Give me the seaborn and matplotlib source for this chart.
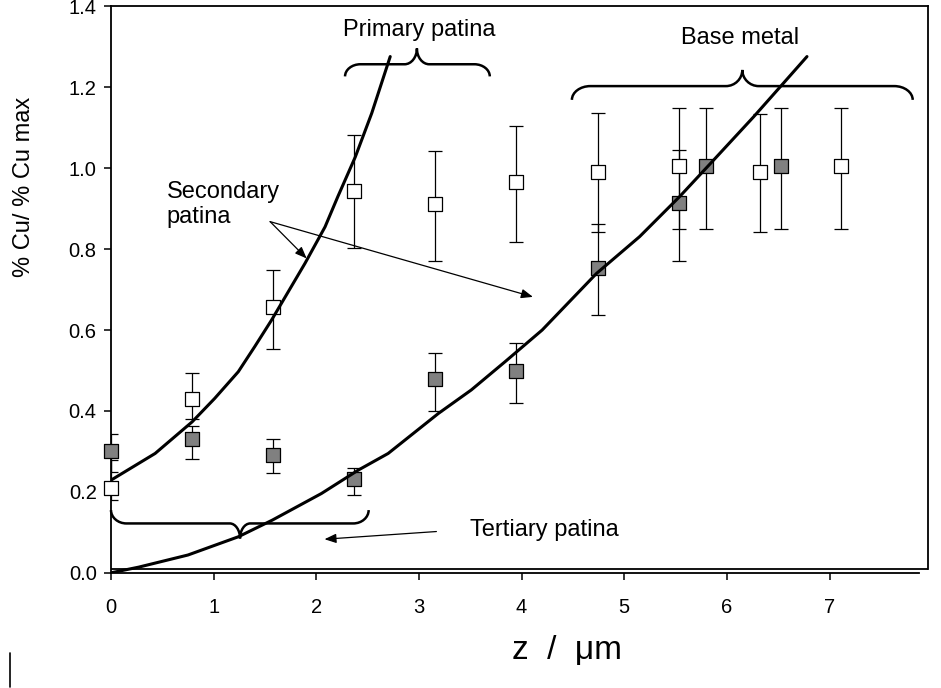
import matplotlib
matplotlib.use("Agg")
import matplotlib.pyplot as plt
from matplotlib.path import Path
from matplotlib.patches import PathPatch
from matplotlib.lines import Line2D
import pandas as pd
import seaborn as sns

# ---- data ----
open_z = [0.0, 0.79, 1.58, 2.37, 3.16, 3.95, 4.74, 5.53, 6.32, 7.11]
open_cu = [0.21, 0.43, 0.657, 0.943, 0.912, 0.966, 0.991, 1.005, 0.991, 1.005]
open_lo = [0.18, 0.379, 0.553, 0.802, 0.770, 0.817, 0.842, 0.850, 0.842, 0.850]
open_hi = [0.279, 0.493, 0.749, 1.083, 1.042, 1.104, 1.137, 1.149, 1.134, 1.149]

filled_z = [0.0, 0.79, 1.58, 2.37, 3.16, 3.95, 4.74, 5.53, 5.80, 6.53]
filled_cu = [0.30, 0.331, 0.292, 0.231, 0.478, 0.498, 0.754, 0.913, 1.005, 1.005]
filled_lo = [0.25, 0.282, 0.247, 0.193, 0.401, 0.420, 0.638, 0.770, 0.850, 0.850]
filled_hi = [0.343, 0.364, 0.331, 0.259, 0.543, 0.568, 0.861, 1.046, 1.149, 1.149]

fit1_z = [0.0, 0.43, 0.79, 1.01, 1.24, 1.40, 1.565, 1.89, 2.085, 2.21, 2.38, 2.54, 2.72]
fit1_cu = [0.229, 0.295, 0.373, 0.431, 0.497, 0.559, 0.625, 0.765, 0.855, 0.930, 1.028, 1.136, 1.276]
fit2_z = [0.0, 0.27, 0.75, 1.24, 1.57, 2.05, 2.41, 2.70, 3.19, 3.51, 3.84, 4.20, 4.73, 5.15,
          5.54, 5.87, 6.26, 6.55, 6.78]
fit2_cu = [0.0, 0.014, 0.044, 0.089, 0.130, 0.196, 0.254, 0.295, 0.394, 0.452, 0.522, 0.600,
           0.740, 0.831, 0.930, 1.020, 1.127, 1.210, 1.276]

x_ticks = [0, 1, 2, 3, 4, 5, 6, 7]
y_ticks = [0.0, 0.2, 0.4, 0.6, 0.8, 1.0, 1.2, 1.4]
y_tick_labels = ["0.0", "0.2", "0.4", "0.6", "0.8", "1.0", "1.2", "1.4"]

# ---- style ----
sns.set_theme(style="ticks")
plt.rcParams["font.family"] = ["Liberation Sans", "DejaVu Sans"]
plt.rcParams["axes.edgecolor"] = "black"
plt.rcParams["axes.labelcolor"] = "black"
plt.rcParams["text.color"] = "black"
plt.rcParams["xtick.color"] = "black"
plt.rcParams["ytick.color"] = "black"
plt.rcParams["xtick.labelcolor"] = "black"
plt.rcParams["ytick.labelcolor"] = "black"

fig = plt.figure(figsize=(9.41, 6.88), dpi=100)
W, H = 941, 688
x0px, x1px, ybot, ytop = 111, 928, 572.8, 6.4
ax = fig.add_axes([x0px / W, 1 - ybot / H, (x1px - x0px) / W, (ybot - ytop) / H])

df_open = pd.DataFrame({"z": open_z, "cu": open_cu})
df_fill = pd.DataFrame({"z": filled_z, "cu": filled_cu})

# error bars
for zz, cc, lo, hi in [(open_z, open_cu, open_lo, open_hi),
                       (filled_z, filled_cu, filled_lo, filled_hi)]:
    err = [[c - l for c, l in zip(cc, lo)], [h - c for c, h in zip(cc, hi)]]
    ax.errorbar(zz, cc, yerr=err, fmt="none", ecolor="black", elinewidth=0.9,
                capsize=5.2, capthick=0.9, zorder=2)

# markers
sns.scatterplot(data=df_open, x="z", y="cu", marker="s", s=105, color="white",
                edgecolor="black", linewidth=0.9, ax=ax, zorder=3, clip_on=False)
sns.scatterplot(data=df_fill, x="z", y="cu", marker="s", s=105, color="#808080",
                edgecolor="black", linewidth=0.9, ax=ax, zorder=3, clip_on=False)

# fitted curves
sns.lineplot(x=fit1_z, y=fit1_cu, color="black", linewidth=2.2, ax=ax, zorder=4,
             sort=False, estimator=None)
sns.lineplot(x=fit2_z, y=fit2_cu, color="black", linewidth=2.2, ax=ax, zorder=4,
             sort=False, estimator=None)


def brace(ax, xa, xb, xc, y_end, y_bar, y_tip, r_end, r_mid, lw=1.8):
    k = 0.55
    verts = [(xa, y_end),
             (xa, y_end + k * (y_bar - y_end)), (xa + r_end * (1 - k), y_bar), (xa + r_end, y_bar),
             (xc - r_mid, y_bar),
             (xc - r_mid * (1 - k), y_bar), (xc, y_tip - k * (y_tip - y_bar)), (xc, y_tip),
             (xc, y_tip - k * (y_tip - y_bar)), (xc + r_mid * (1 - k), y_bar), (xc + r_mid, y_bar),
             (xb - r_end, y_bar),
             (xb - r_end * (1 - k), y_bar), (xb, y_end + k * (y_bar - y_end)), (xb, y_end)]
    codes = ([Path.MOVETO] + [Path.CURVE4] * 3 + [Path.LINETO] + [Path.CURVE4] * 6
             + [Path.LINETO] + [Path.CURVE4] * 3)
    ax.add_patch(PathPatch(Path(verts, codes), facecolor="none", edgecolor="black",
                           lw=lw, zorder=4, clip_on=False))


brace(ax, 2.28, 3.69, 2.98, 1.227, 1.257, 1.296, 0.15, 0.12)
brace(ax, 4.49, 7.81, 6.15, 1.169, 1.203, 1.243, 0.18, 0.16)
brace(ax, 0.0, 2.51, 1.257, 0.155, 0.122, 0.085, 0.15, 0.10)

fs_ann = 17
ax.text(3.0, 1.342, "Primary patina", ha="center", va="center", fontsize=fs_ann)
ax.text(6.13, 1.322, "Base metal", ha="center", va="center", fontsize=fs_ann)
ax.text(0.543, 0.911, "Secondary\npatina", ha="left", va="center", fontsize=fs_ann,
        linespacing=1.2)
ax.text(3.497, 0.106, "Tertiary patina", ha="left", va="center", fontsize=fs_ann)

arrow = dict(arrowstyle="-|>,head_length=0.7,head_width=0.28", color="black", lw=0.9,
             shrinkA=0, shrinkB=0, mutation_scale=10)
ax.annotate("", xy=(2.08, 0.083), xytext=(3.17, 0.102), arrowprops=arrow)
ax.annotate("", xy=(1.906, 0.777), xytext=(1.55, 0.868), arrowprops=arrow)
ax.annotate("", xy=(4.11, 0.682), xytext=(1.55, 0.868), arrowprops=arrow)

# axes
ax.set_xlim(0, 7.959)
ax.set_ylim(0, 1.4)
ax.set_xticks(x_ticks)
ax.set_yticks(y_ticks)
ax.set_yticklabels(y_tick_labels)
ax.tick_params(axis="both", labelsize=14.5, width=1.1, length=4.8, direction="out")
ax.tick_params(axis="y", pad=5.5)
ax.tick_params(axis="x", pad=13.5)
for s in ax.spines.values():
    s.set_linewidth(1.3)
    s.set_color("black")
ax.spines["bottom"].set_bounds(0, 7.87)
ax.spines["right"].set_bounds(0.0087, 1.4)
ax.axhline(0.0087, color="black", lw=1.3, zorder=5)

ax.set_ylabel("% Cu/ % Cu max", fontsize=17)
ax.yaxis.label.set_va("center")
ax.yaxis.label.set_ha("center")
ax.yaxis.set_label_coords(-0.106, 0.681)
ax.set_xlabel("z  /  \u03bcm", fontsize=24)
ax.xaxis.label.set_va("center")
ax.xaxis.set_label_coords(0.558, -0.138)

# stray vertical cursor mark at bottom-left
fig.add_artist(Line2D([10 / W, 10 / W], [1 - 653 / H, 1 - 687 / H], color="black", lw=1.2))

fig.savefig("out.png", dpi=100)
